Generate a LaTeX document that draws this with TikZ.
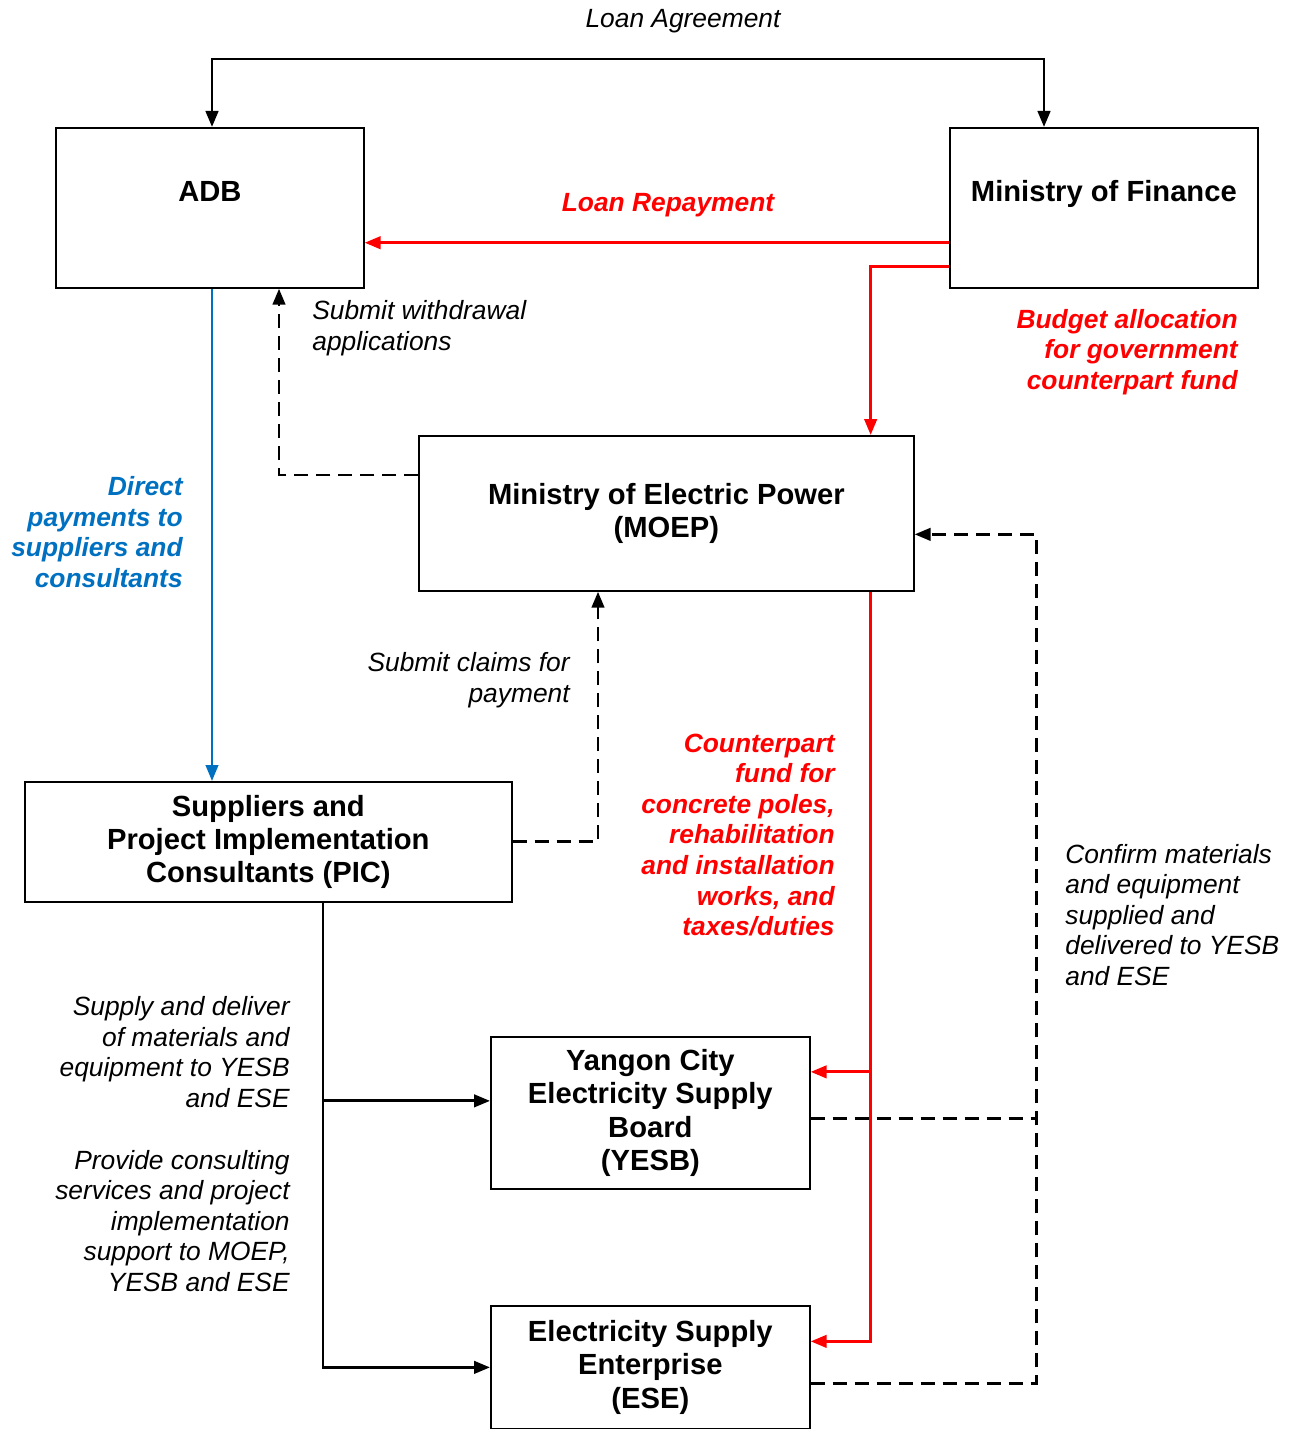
\documentclass[tikz,border=0pt]{standalone}
\usepackage{fontspec}
\setmainfont{Liberation Sans}
\usetikzlibrary{arrows.meta,positioning,calc}
\definecolor{payblue}{HTML}{0070C0}
\definecolor{fundred}{HTML}{FF0000}

\begin{document}
\begin{tikzpicture}[x=0.02cm, y=-0.02cm,
  box/.style={draw, line width=1pt, align=center, inner sep=0pt,
    anchor=north west, font=\bfseries\fontsize{16.6}{19}\selectfont},
  arrow/.style={-{Triangle[length=0.32cm, width=0.25cm]}, line width=1.6pt},
  twoway/.style={{Triangle[length=0.32cm, width=0.25cm]}-{Triangle[length=0.32cm, width=0.25cm]},
    line width=1.6pt},
  redarrow/.style={arrow, draw=fundred},
  bluearrow/.style={arrow, draw=payblue, line width=1.4pt},
  dasharrow/.style={arrow, dash pattern=on 0.28cm off 0.16cm},
  dashline/.style={line width=1.6pt, dash pattern=on 0.28cm off 0.16cm},
  label/.style={inner sep=0pt, font=\itshape\fontsize{15}{17.4}\selectfont},
  redlabel/.style={label, text=fundred, font=\bfseries\itshape\fontsize{15}{17.4}\selectfont},
  bluelabel/.style={label, text=payblue, font=\bfseries\itshape\fontsize{15}{17.4}\selectfont}
]
\useasboundingbox (0,0) rectangle (1291,1429);

% Lender and borrower
\node[box, minimum width=6.16cm, minimum height=3.2cm] (adb) at (55,127) {ADB\\\mbox{}};
\node[box, minimum width=6.16cm, minimum height=3.2cm] (mof) at (949,127) {Ministry of Finance\\\mbox{}};

% Executing agency
\node[box, minimum width=9.9cm, minimum height=3.1cm] (moep) at (418,435)
  {Ministry of Electric Power\\(MOEP)};

% Suppliers
\node[box, minimum width=9.74cm, minimum height=2.4cm] (pic) at (24,781)
  {Suppliers and\\Project Implementation\\Consultants (PIC)};

% Implementing agencies
\node[box, minimum width=6.38cm, minimum height=3.04cm] (yesb) at (490,1036)
  {Yangon City\\Electricity Supply\\Board\\(YESB)};
\node[box, minimum width=6.38cm, minimum height=2.46cm] (ese) at (490,1305)
  {Electricity Supply\\Enterprise\\(ESE)};

% Loan agreement
\draw[twoway] ($(adb.north west)+(157,0)$) -- ++(0,-68) -| ($(mof.north west)+(95,0)$);
\node[label] (agree) at (683,21) {Loan Agreement};

% Repayment and budget
\draw[redarrow] ($(mof.south west)+(0,-46)$) -- ($(adb.south east)+(0,-46)$);
\node[redlabel] (repay) at (668,205) {Loan Repayment};
\draw[redarrow] ($(mof.south west)+(0,-22)$) -| ($(moep.north east)+(-44,0)$);
\node[redlabel, align=right, anchor=east] (budget) at (1238,352)
  {Budget allocation\\for government\\counterpart fund};

% Withdrawal applications
\draw[dasharrow] ($(moep.north west)+(0,40)$) -| ($(adb.south west)+(224,0)$);
\node[label, align=left, anchor=west] (withdraw) at (312,328)
  {Submit withdrawal\\applications};

% Direct payments
\draw[bluearrow] ($(adb.south west)+(157,0)$) -- ($(pic.north west)+(188,0)$);
\node[bluelabel, align=right, anchor=east] (direct) at (183,532)
  {Direct\\payments to\\suppliers and\\consultants};

% Claims
\draw[dasharrow] (pic.east) -| ($(moep.south west)+(180,0)$);
\node[label, align=right, anchor=east] (claims) at (570,680)
  {Submit claims for\\payment};

% Counterpart fund
\draw[redarrow] ($(moep.south east)+(-44,0)$) |- ($(ese.east)+(0,-26)$);
\draw[redarrow] ($(yesb.east)+(60,-41)$) -- ($(yesb.east)+(0,-41)$);
\node[redlabel, align=right, anchor=east] (counter) at (835,835)
  {Counterpart\\fund for\\concrete poles,\\rehabilitation\\and installation\\works, and\\taxes/duties};

% Supply and consulting
\draw[arrow] ($(pic.south west)+(299,0)$) |- (ese.west);
\draw[arrow] ($(yesb.west)+(-167,-12)$) -- ($(yesb.west)+(0,-12)$);
\node[label, align=right, anchor=east] (supply) at (290,1052)
  {Supply and deliver\\of materials and\\equipment to YESB\\and ESE};
\node[label, align=right, anchor=east] (consult) at (290,1221)
  {Provide consulting\\services and project\\implementation\\support to MOEP,\\YESB and ESE};

% Confirmation
\draw[dasharrow] ($(ese.east)+(0,16)$) -| ($(moep.east)+(122,21)$) -- ($(moep.east)+(0,21)$);
\draw[dashline] ($(yesb.east)+(0,6)$) -- ($(yesb.east)+(226,6)$);
\node[label, align=left, anchor=west] (confirm) at (1065,915)
  {Confirm materials\\and equipment\\supplied and\\delivered to YESB\\and ESE};

\end{tikzpicture}
\end{document}
